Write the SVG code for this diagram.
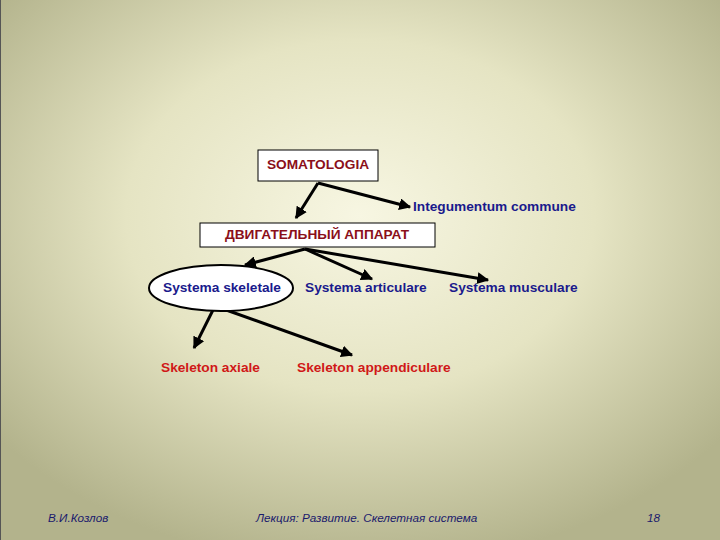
<svg xmlns="http://www.w3.org/2000/svg" width="720" height="540" viewBox="0 0 720 540">
<defs>
<radialGradient id="bg" cx="50%" cy="40%" r="65%">
<stop offset="0" stop-color="#f7f6e2"/><stop offset="0.5" stop-color="#e5e4c3"/><stop offset="1" stop-color="#b3b38c"/>
</radialGradient>
<marker id="ah" viewBox="0 0 10 10" refX="9" refY="5" markerWidth="4" markerHeight="4" orient="auto"><path d="M0,0 L10,5 L0,10 z" fill="#000"/></marker>
<style>
text{font-family:"Liberation Sans",Arial,sans-serif;font-size:13.7px;font-weight:bold}
.r{fill:#8b0f1a}.b{fill:#1a1a8c}.red{fill:#d01818}
.ft{font-weight:normal;font-style:italic;font-size:11.7px;fill:#1a1a6c}
.bx{fill:#fff;stroke:#000;stroke-width:1}
line{stroke:#000;stroke-width:3;marker-end:url(#ah)}
</style>
</defs>
<rect width="720" height="540" fill="url(#bg)"/>
<line x1="0.5" y1="0" x2="0.5" y2="540" style="stroke:#555;stroke-width:1;marker-end:none"/>
<g id="connectors">
<line x1="318" y1="183" x2="296" y2="218"/>
<line x1="318" y1="183" x2="410" y2="207"/>
<line x1="305" y1="249" x2="245" y2="265"/>
<line x1="305" y1="249" x2="372" y2="279"/>
<line x1="305" y1="249" x2="488" y2="280"/>
<line x1="215" y1="306" x2="194" y2="348"/>
<line x1="215" y1="306" x2="352" y2="355"/>
</g>
<g id="somatologia"><rect class="bx" x="258" y="150" width="120" height="31"/><text class="r" x="318" y="169" text-anchor="middle">SOMATOLOGIA</text></g>
<g id="integumentum"><text class="b" x="413" y="211">Integumentum commune</text></g>
<g id="dvig"><rect class="bx" x="200" y="223" width="235" height="24"/><text class="r" x="317" y="235" text-anchor="middle" dominant-baseline="middle">ДВИГАТЕЛЬНЫЙ АППАРАТ</text></g>
<g id="skeletale"><ellipse cx="221" cy="288" rx="72" ry="23" fill="#fff" stroke="#000" stroke-width="2"/><text class="b" x="222" y="292" text-anchor="middle">Systema  skeletale</text></g>
<g id="articulare"><text class="b" x="305" y="292">Systema articulare</text></g>
<g id="musculare"><text class="b" x="449" y="292">Systema musculare</text></g>
<g id="axiale"><text class="red" x="161" y="372">Skeleton axiale</text></g>
<g id="appendiculare"><text class="red" x="297" y="372">Skeleton appendiculare</text></g>
<g id="footer">
<text class="ft" x="48" y="522">В.И.Козлов</text>
<text class="ft" x="256" y="522">Лекция:  Развитие. Скелетная система</text>
<text class="ft" x="647" y="522">18</text>
</g>
</svg>
